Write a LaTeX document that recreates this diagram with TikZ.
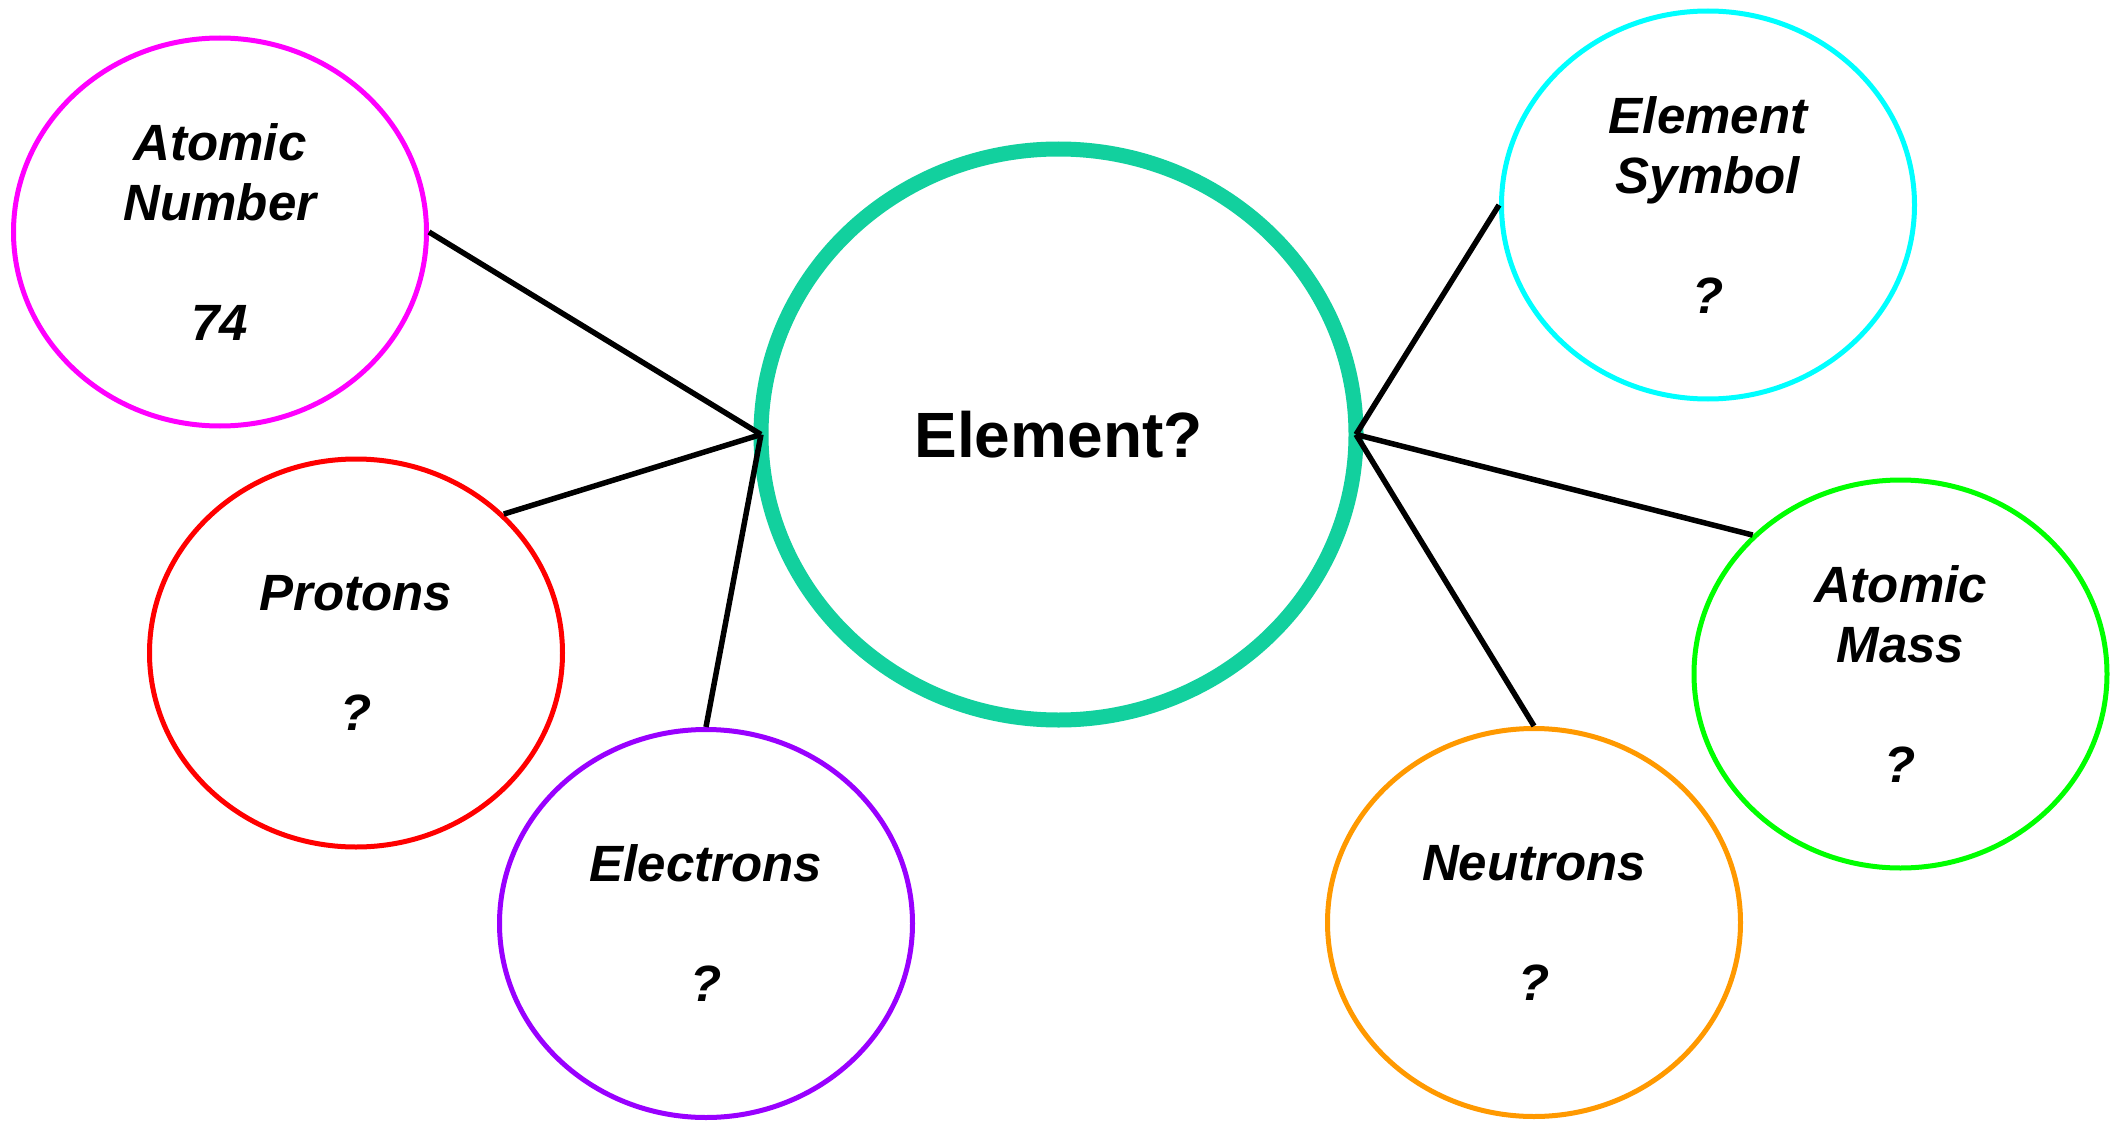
\documentclass[tikz,border=0pt]{standalone}
\usepackage{fontspec}
\setmainfont{Liberation Sans}
\usetikzlibrary{shapes.geometric}
\definecolor{cteal}{RGB}{18,208,158}
\definecolor{cmag}{RGB}{255,0,255}
\definecolor{cred}{RGB}{255,0,0}
\definecolor{cpurple}{RGB}{153,0,255}
\definecolor{ccyan}{RGB}{0,255,255}
\definecolor{cgreen}{RGB}{0,255,0}
\definecolor{corange}{RGB}{255,153,0}
\tikzset{
  sat/.style={ellipse, draw=#1, line width=5pt, minimum width=413pt, minimum height=388pt,
    inner sep=0pt, align=center, font=\fontsize{51}{60}\selectfont\bfseries\itshape},
  hub/.style={ellipse, draw=cteal, line width=15pt, minimum width=595pt, minimum height=571pt,
    inner sep=0pt, outer sep=0pt, align=center, font=\fontsize{64}{70}\selectfont\bfseries},
  conn/.style={draw=black, line width=5.5pt}
}
\begin{document}
\begin{tikzpicture}[x=1pt,y=-1pt]
\useasboundingbox[fill=white] (0,0) rectangle (2113,1121);
\node[hub] (c) at (1058.5,434.5) {Element?};
\node[sat=cmag] (an) at (220,232) {Atomic\\Number\\[60pt]74};
\node[sat=cred] (pr) at (356,653) {Protons\\[60pt]?};
\node[sat=cpurple] (el) at (706,923.5) {Electrons\\[60pt]?};
\node[sat=ccyan] (es) at (1708,205) {Element\\Symbol\\[60pt]?};
\node[sat=cgreen] (am) at (1900.5,674) {Atomic\\Mass\\[60pt]?};
\node[sat=corange] (ne) at (1534,922.5) {Neutrons\\[60pt]?};
\draw[conn] (an.east) -- (c.west);
\draw[conn] (pr.north east) -- (c.west);
\draw[conn] (el.north) -- (c.west);
\draw[conn] (es.west) -- (c.east);
\draw[conn] (am.north west) -- (c.east);
\draw[conn] (ne.north) -- (c.east);
\end{tikzpicture}
\end{document}
